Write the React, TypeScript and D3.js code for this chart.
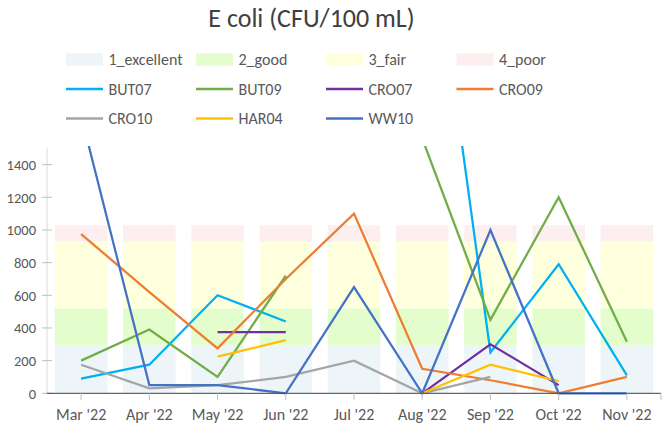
import React from 'react';
import * as d3 from 'd3';

const months = ["Mar '22", "Apr '22", "May '22", "Jun '22", "Jul '22", "Aug '22", "Sep '22", "Oct '22", "Nov '22"];

// quality band segments (stacked heights)
const bandNames = ['1_excellent', '2_good', '3_fair', '4_poor'];
const bandHeights = [295, 225, 410, 100];
const bandColors = ['#EDF5F9', '#E3FDCD', '#FDFFDD', '#FDEFEF'];

const siteNames = ['BUT07', 'BUT09', 'CRO07', 'CRO09', 'CRO10', 'HAR04', 'WW10'];
const siteColors = ['#00B0F0', '#70AD47', '#7030A0', '#ED7D31', '#A5A5A5', '#FFC000', '#4472C4'];

const BUT07 = [90, 175, 600, 440, null, 3300, 250, 790, 110];
const BUT09 = [200, 390, 100, 720, null, 1560, 450, 1200, 315];
const CRO07 = [null, null, 375, 375, null, 0, 300, 50, null];
const CRO09 = [975, 620, 275, 700, 1100, 150, 80, 0, 100];
const CRO10 = [175, 30, 50, 100, 200, 0, 100, null, null];
const HAR04 = [null, null, 225, 325, null, 0, 175, 75, null];
const WW10 = [1700, 50, 50, 0, 650, 0, 1000, 0, 0];
const series = [BUT07, BUT09, CRO07, CRO09, CRO10, HAR04, WW10];

const yTicks = [0, 200, 400, 600, 800, 1000, 1200, 1400];

const font = 'Carlito, Calibri, Lato, sans-serif';

export default function App() {
  const x = d3.scaleBand().domain(months).range([47, 661]).paddingInner(0.23).paddingOuter(0.115);
  const y = d3.scaleLinear().domain([0, 1500]).range([393.3, 148.3]);
  const cx = (m: string) => (x(m) ?? 0) + x.bandwidth() / 2;

  const line = d3.line<number | null>()
    .defined(d => d !== null)
    .x((_, i) => cx(months[i]))
    .y(d => y(d as number));

  const stacks = bandHeights.map((h, i) => {
    const lo = d3.sum(bandHeights.slice(0, i));
    return { lo, hi: lo + h };
  });

  const legendCols = [66, 196, 326, 456.5];
  const legendItems = [
    ...bandNames.map((n, i) => ({ name: n, color: bandColors[i], kind: 'rect' })),
    ...siteNames.map((n, i) => ({ name: n, color: siteColors[i], kind: 'line' })),
  ];

  return (
    <svg width={665} height={427} style={{ position: 'absolute', left: 0, top: 0 }} fontFamily={font}>
      <defs>
        <clipPath id="plot">
          <rect x={47} y={146} width={620} height={250} />
        </clipPath>
      </defs>
      <text x={311.5} y={26.5} textAnchor="middle" fontSize={26} fill="#404040">E coli (CFU/100 mL)</text>

      {legendItems.map((it, i) => {
        const col = i % 4;
        const row = Math.floor(i / 4);
        const lx = legendCols[col];
        const ly = 59.5 + row * 29.5;
        return (
          <g key={it.name}>
            {it.kind === 'rect'
              ? <rect x={lx} y={ly - 6.2} width={37} height={12.4} fill={it.color} />
              : <line x1={lx} x2={lx + 37} y1={ly} y2={ly} stroke={it.color} strokeWidth={2.5} />}
            <text x={lx + 42.5} y={ly + 5.8} fontSize={16} fill="#595959">{it.name}</text>
          </g>
        );
      })}

      {months.map(m => (
        <g key={m}>
          {stacks.map((s, i) => (
            <rect key={i} x={x(m)} width={x.bandwidth()} y={y(s.hi)} height={y(s.lo) - y(s.hi)} fill={bandColors[i]} />
          ))}
        </g>
      ))}

      <line x1={47} x2={47} y1={148.3} y2={393.3} stroke="#D9D9D9" strokeWidth={1} />
      {yTicks.map(t => (
        <g key={t}>
          <line x1={42} x2={52} y1={y(t)} y2={y(t)} stroke="#BFBFBF" />
          <text x={36} y={y(t) + 5.2} textAnchor="end" fontSize={14.5} fill="#595959">{t}</text>
        </g>
      ))}

      <g clipPath="url(#plot)">
        {series.map((s, i) => (
          <path key={siteNames[i]} d={line(s) ?? ''} fill="none" stroke={siteColors[i]} strokeWidth={2.25} strokeLinejoin="miter" />
        ))}
      </g>

      <line x1={47} x2={661} y1={393.3} y2={393.3} stroke="#404040" strokeWidth={1} />
      <line x1={661} x2={661} y1={393.3} y2={400} stroke="#BFBFBF" />
      {months.map(m => (
        <g key={m}>
          <line x1={cx(m)} x2={cx(m)} y1={393.3} y2={400} stroke="#BFBFBF" />
          <text x={cx(m)} y={420} textAnchor="middle" fontSize={16} fill="#595959">{m}</text>
        </g>
      ))}
    </svg>
  );
}
